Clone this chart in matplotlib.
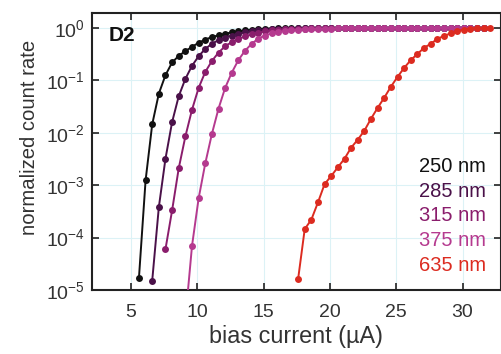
import numpy as np
import matplotlib
matplotlib.use("Agg")
import matplotlib.pyplot as plt
from matplotlib.ticker import LogLocator, NullLocator

plt.rcParams['font.family'] = ['Liberation Sans', 'DejaVu Sans']
plt.rcParams['mathtext.fontset'] = 'custom'
plt.rcParams['mathtext.rm'] = 'Liberation Sans'

nan = np.nan

# bias sweep (µA)
bias = [5.6, 6.1, 6.6, 7.1, 7.6, 8.1, 8.6, 9.1, 9.6, 10.1,
        10.6, 11.1, 11.6, 12.1, 12.6, 13.1, 13.6, 14.1, 14.6, 15.1,
        15.6, 16.1, 16.6, 17.1, 17.6, 18.1, 18.6, 19.1, 19.6, 20.1,
        20.6, 21.1, 21.6, 22.1, 22.6, 23.1, 23.6, 24.1, 24.6, 25.1,
        25.6, 26.1, 26.6, 27.1, 27.6, 28.1, 28.6, 29.1, 29.6, 30.1,
        30.6, 31.1, 31.6, 32.1]

rate_250 = [1.7e-5, 1.23e-3, 1.45e-2, 5.6e-2, 0.126, 0.22, 0.295, 0.363, 0.437, 0.525,
            0.60, 0.676, 0.724, 0.776, 0.83, 0.87, 0.90, 0.93, 0.955, 0.97,
            0.98, 0.985, 0.99, 0.99, 0.993, 0.995, 0.996, 0.997, 0.998, 0.998,
            0.999] + [1.0] * 22 + [nan]

rate_285 = [nan, nan,
            1.5e-5, 3.8e-4, 3.2e-3, 1.6e-2, 5.0e-2, 0.107, 0.19, 0.29, 0.40, 0.50,
            0.59, 0.66, 0.72, 0.78, 0.83, 0.87, 0.90, 0.92, 0.945, 0.96,
            0.97, 0.98, 0.985, 0.99, 0.99, 0.993, 0.995, 0.996, 0.997, 0.998,
            0.999] + [1.0] * 20 + [nan]

rate_315 = [nan, nan, nan, nan,
            6.0e-5, 3.3e-4, 2.1e-3, 8.5e-3, 2.75e-2, 7.2e-2, 0.145, 0.235, 0.34, 0.45,
            0.54, 0.62, 0.69, 0.76, 0.81, 0.86, 0.90, 0.92, 0.945, 0.96,
            0.97, 0.98, 0.985, 0.99, 0.99, 0.993, 0.995, 0.996, 0.997, 0.998,
            0.999] + [1.0] * 18 + [nan]

rate_375 = [nan] * 7 + [
            2.75e-6, 6.9e-5, 5.6e-4, 2.6e-3, 9.5e-3, 2.9e-2, 7.2e-2, 0.141, 0.245, 0.37,
            0.50, 0.63, 0.72, 0.79, 0.84, 0.88, 0.91, 0.93, 0.95, 0.96,
            0.97, 0.975, 0.98, 0.985, 0.99, 0.99, 0.993, 0.995, 0.996, 0.997,
            0.998, 0.999] + [1.0] * 14 + [nan]

rate_635 = [nan] * 24 + [
            1.6e-5, 1.45e-4, 2.2e-4, 4.7e-4, 1.05e-3, 1.5e-3, 2.2e-3, 3.2e-3, 5.2e-3, 7.4e-3,
            1.1e-2, 1.86e-2, 3.0e-2, 4.7e-2, 7.6e-2, 0.117, 0.174, 0.245, 0.32, 0.42,
            0.50, 0.62, 0.71, 0.79, 0.87, 0.93, 0.98, 1.0, 1.0, 1.0]

labels = ["250 nm", "285 nm", "315 nm", "375 nm", "635 nm"]
colors = ["#111111", "#4a1149", "#8a1d6c", "#b53a8f", "#dc2b20"]
series = [rate_250, rate_285, rate_315, rate_375, rate_635]

fig = plt.figure(figsize=(5.02, 3.54), dpi=100)
ax = fig.add_axes([0.183, 0.181, 0.815, 0.782])

ax.grid(True, color="#dcf2f6", linewidth=0.8, zorder=0)

for rate, col in zip(series, colors):
    ax.plot(bias, rate, color=col, linewidth=1.4, marker='o', markersize=5,
            markeredgewidth=0, zorder=3)

ax.set_yscale('log')
ax.set_xlim(2.05, 32.9)
ax.set_ylim(1e-5, 1.93)
ax.set_xticks([5, 10, 15, 20, 25, 30])
ax.yaxis.set_major_locator(LogLocator(base=10, numticks=10))
ax.yaxis.set_minor_locator(NullLocator())

ax.tick_params(direction='in', top=True, right=True, length=5, width=1.2,
               colors='#222222', labelcolor='#333333')
ax.tick_params(axis='x', pad=10, labelsize=14)
ax.tick_params(axis='y', pad=5, labelsize=14)
for s in ax.spines.values():
    s.set_linewidth(1.5)
    s.set_color('#222222')

ax.set_xlabel("bias current (µA)", fontsize=16.8, color='#333333', labelpad=3)
ax.set_ylabel("normalized count rate", fontsize=14.6, color='#333333')
ax.yaxis.set_label_coords(-0.128, 0.552)

ax.text(0.04, 0.92, "D2", transform=ax.transAxes, fontsize=15,
        fontweight='bold', color='#111111', va='center', ha='left')

y0 = 0.446
for i, (lab, col) in enumerate(zip(labels, colors)):
    ax.text(0.963, y0 - i * 0.089, lab, transform=ax.transAxes, fontsize=14.5,
            color=col, ha='right', va='center')

fig.savefig("out.png", dpi=100)
